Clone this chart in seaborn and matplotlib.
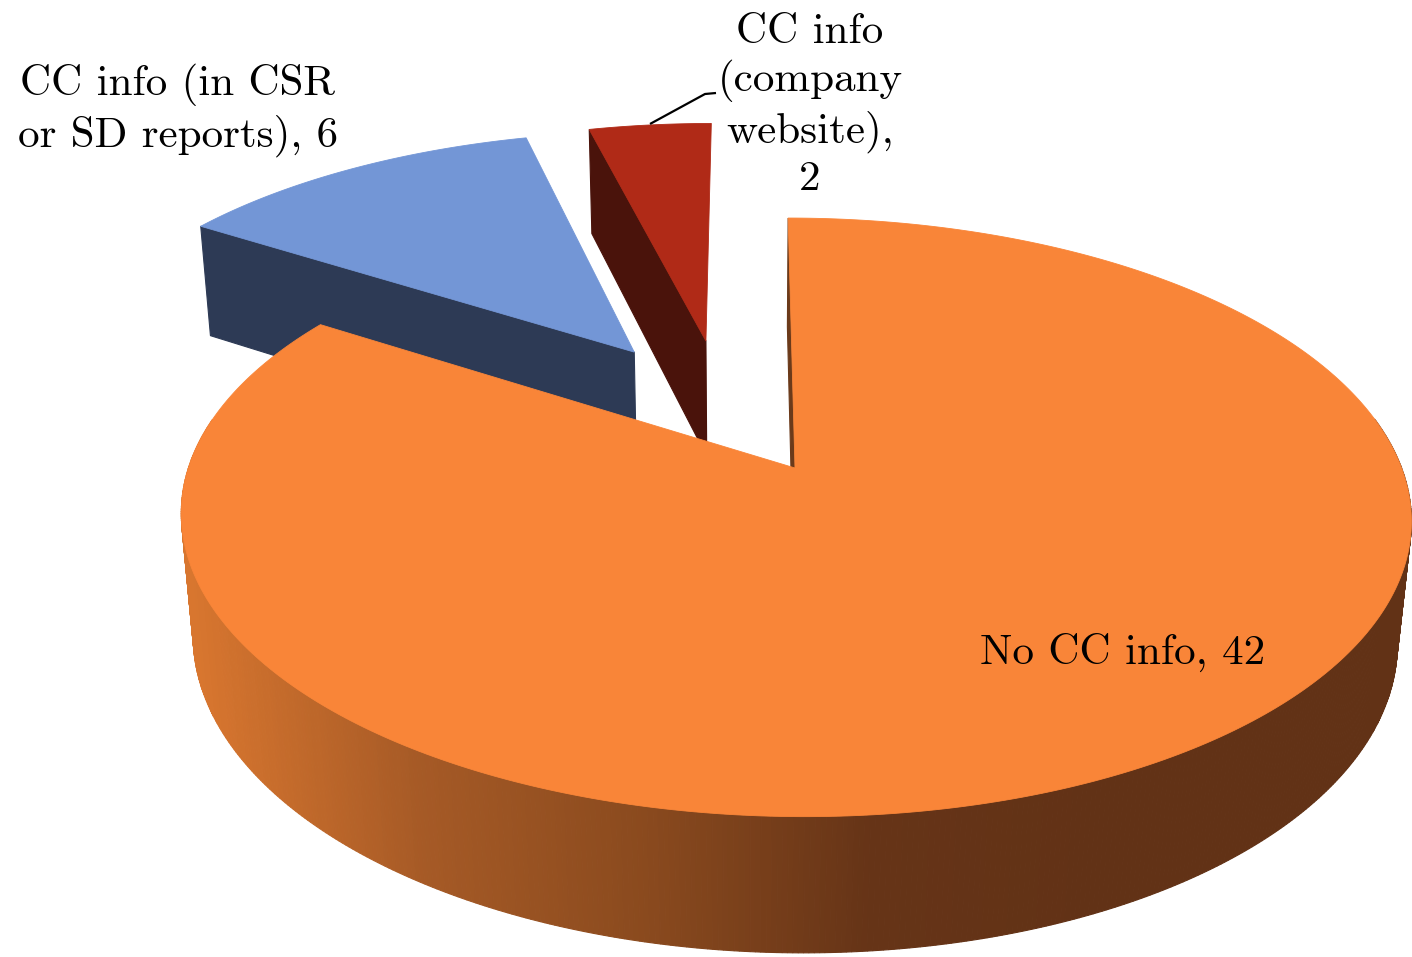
import numpy as np
import matplotlib
matplotlib.use("Agg")
import matplotlib.pyplot as plt
from matplotlib.colors import LinearSegmentedColormap
import seaborn as sns

# Companies by climate-change disclosure channel
categories = ["No CC info", "CC info (in CSR\nor SD reports)", "CC info\n(company\nwebsite)"]
counts = [42, 6, 2]
value_sep = [", ", ", ", ",\n"]

top_colors = ["#F98538", "#7396D6", "#B02A17"]
side_colors = ["#6B3A1A", "#2D3A55", "#4A130B"]
wall_cmap = LinearSegmentedColormap.from_list(
    "wall", ["#D8762F", "#A65A26", "#8A4A1E", "#663417", "#623216"])

sns.set_theme(style="white")
plt.rcParams["font.family"] = ["cmr10", "DejaVu Serif"]
plt.rcParams["axes.formatter.use_mathtext"] = True

W, HT = 1412, 957
fig = plt.figure(figsize=(W / 100, HT / 100), dpi=100)
ax = fig.add_axes([0, 0, 1, 1])
ax.set_xlim(0, W)
ax.set_ylim(HT, 0)
ax.axis("off")

# camera looking down on a disc of unit radius
CX, CY = 795.0, 468.0          # screen position of the disc centre
SCALE = 606.6                  # pixels per radius at the centre
SIN_E, COS_E = 0.480, 0.877    # camera elevation
CAM_DIST = 5.32                # camera distance in radii
CAM_SHIFT = 0.08               # camera sits slightly left of centre
THICK = 0.233                  # disc thickness in radii
EDGE_ON = 0.075                # cut faces seen more obliquely are skipped

# exploded slices are shifted within the disc plane
offsets = [(0.0, 0.0), (-0.278, 0.426), (-0.152, 0.47)]


def project(px, py, z=0.0):
    px = np.asarray(px, float)
    py = np.asarray(py, float)
    w = 1 + (py * COS_E - z * SIN_E) / CAM_DIST
    X = CX + SCALE * ((px + CAM_SHIFT) / w - CAM_SHIFT)
    Y = CY - SCALE * (py * SIN_E + z * COS_E) / w
    return X, Y


def poly(X, Y, color, z, lw=0.6):
    ax.fill(X, Y, facecolor=color, edgecolor=color, linewidth=lw, zorder=z)


cam_plane = np.array([-CAM_SHIFT, -CAM_DIST * COS_E])

# slice angles, starting at 12 o'clock and running clockwise
total = sum(counts)
spans = []
a = 90.0
for c in counts:
    sweep = 360.0 * c / total
    spans.append((a - sweep, a))
    a -= sweep

xmin, xmax = 190.0, 1100.0
draw_order = [2, 1, 0]
z = 1
for i in draw_order:
    t1, t2 = spans[i]
    ox, oy = offsets[i]

    # outer wall on the front half
    tt = np.linspace(t1, t2, 700)
    m = np.mod(tt, 360)
    tt = tt[(m >= 170) | (m <= 10)]
    if tt.size > 1:
        r = np.radians(tt)
        px, py = ox + np.cos(r), oy + np.sin(r)
        Xt, Yt = project(px, py, 0.0)
        Xb, Yb = project(px, py, -THICK)
        for j in range(len(tt) - 1):
            xm = 0.5 * (Xt[j] + Xt[j + 1])
            col = wall_cmap(np.clip((xm - xmin) / (xmax - xmin), 0, 1))
            poly([Xt[j], Xt[j + 1], Xb[j + 1], Xb[j]],
                 [Yt[j], Yt[j + 1], Yb[j + 1], Yb[j]], col, z, lw=0.8)
        z += 1

    # radial cut faces that turn towards the camera
    for t, sgn in ((t1, -1), (t2, 1)):
        nrm = np.radians(t + sgn * 90)
        n = np.array([np.cos(nrm), np.sin(nrm)])
        if np.dot(cam_plane - np.array([ox, oy]), n) > EDGE_ON:
            r = np.radians(t)
            pxs = [ox, ox + np.cos(r), ox + np.cos(r), ox]
            pys = [oy, oy + np.sin(r), oy + np.sin(r), oy]
            zs = np.array([0, 0, -THICK, -THICK])
            X, Y = project(pxs, pys, zs)
            poly(X, Y, side_colors[i], z, lw=0.8)
    z += 1

    # top face
    r = np.radians(np.linspace(t1, t2, 400))
    px = np.concatenate([[ox], ox + np.cos(r)])
    py = np.concatenate([[oy], oy + np.sin(r)])
    X, Y = project(px, py, 0.0)
    poly(X, Y, top_colors[i], z)
    z += 1

# data labels
labels = [f"{c}{s}{v}" for c, v, s in zip(categories, counts, value_sep)]
label_pos = [(1123, 652), (178, 110), (810, 106)]
for lab, (x, y) in zip(labels, label_pos):
    ax.text(x, y, lab, ha="center", va="center", fontsize=31,
            linespacing=1.27, color="black", zorder=20)

# leader line from the small slice to its label
ox, oy = offsets[2]
mid = np.radians(np.mean(spans[2]))
lx, ly = project(ox + np.cos(mid), oy + np.sin(mid), 0.0)
tx, ty = label_pos[2]
ax.plot([lx, tx - 105, tx - 94], [ly - 1, ty - 12, ty - 13],
        color="black", linewidth=1.6, zorder=21, solid_capstyle="butt")

fig.savefig("out.png", dpi=100, facecolor="white")
